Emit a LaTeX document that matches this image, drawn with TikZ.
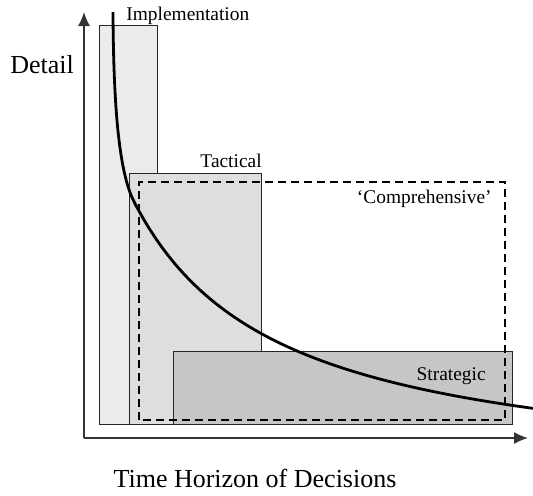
\documentclass[tikz,border=0pt]{standalone}
\usepackage{fontspec}
\setmainfont{Liberation Serif}
\usetikzlibrary{arrows.meta,positioning}
\definecolor{implgray}{HTML}{EBEBEB}
\definecolor{tactgray}{HTML}{DEDEDE}
\definecolor{stratgray}{HTML}{C6C6C6}
\begin{document}
\begin{tikzpicture}[x=0.5pt, y=0.5pt, auto,
    axis/.style={draw=black!80, line width=0.7pt, -{Latex[length=7pt,width=6pt]}},
    levelbox/.style={draw=black!85, line width=0.5pt},
    small/.style={font=\fontsize{9.7}{11}\selectfont},
    big/.style={font=\fontsize{13}{15}\selectfont}]
            \useasboundingbox (0,0) rectangle (533,495);
            \coordinate (O) at (84,57);
            \coordinate (ytop) at (84,483);
            \coordinate (xend) at (528,57);
            \coordinate (ctop) at (113,483);
            \coordinate (cknee) at (134,293.4);
            % the three levels
            \filldraw[levelbox, fill=implgray] (99,71) rectangle (157,470);
            \filldraw[levelbox, fill=tactgray] (129,71) rectangle (261,322);
            \filldraw[levelbox, fill=stratgray] (173,71) rectangle (512,144);
            \draw[line width=1pt, dash pattern=on 4pt off 2.5pt] (139,75) rectangle (505,313);
            \draw[axis] (O) -- (ytop);
            \draw[axis] (O) -- (xend);
            \draw[line width=1.4pt] (ctop) .. controls (113.5,380) and (120,320.7) .. (cknee)
                -- plot[domain=50:449, samples=80] ({\x+84},{4055.1/(\x+94.1)*10+12});
            \node(impl) [small, anchor=base west, inner sep=0pt] at (126,475) {Implementation};
            \node(tact) [small, anchor=base east, inner sep=0pt] at (262,328) {Tactical};
            \node(comp) [small, anchor=base east, inner sep=0pt] at (492,292) {`Comprehensive'};
            \node(strat) [small, anchor=base east, inner sep=0pt] at (486,115) {Strategic};
            \node(detail) [big, anchor=base west, inner sep=0pt] at (10,422) {Detail};
            \node(time) [big, anchor=base, inner sep=0pt] at (255,8) {Time Horizon of Decisions};
            \end{tikzpicture}
\end{document}
